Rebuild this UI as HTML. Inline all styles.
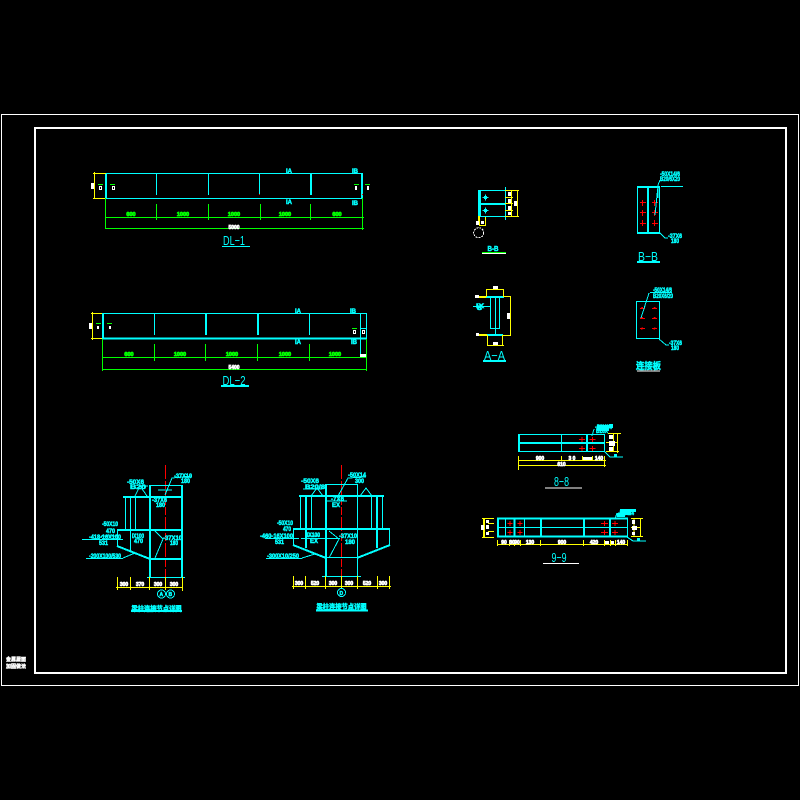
<!DOCTYPE html>
<html><head><meta charset="utf-8"><title>钢梁节点详图</title>
<style>
html,body{margin:0;padding:0;background:#000;width:800px;height:800px;overflow:hidden}
svg{display:block;shape-rendering:crispEdges}
.c{stroke:#0ff;fill:none;stroke-width:1}
.c2{stroke:#0ff;fill:none;stroke-width:2}
.c3{stroke:#0ff;fill:none;stroke-width:3}
.g{stroke:#0f0;fill:none;stroke-width:1}
.y{stroke:#ff0;fill:none;stroke-width:1}
.y2{stroke:#ff0;fill:none;stroke-width:2}
.w{stroke:#fff;fill:none;stroke-width:1}
.r{stroke:#f00;fill:none;stroke-width:1}
text{font-family:"Liberation Sans","Noto Sans CJK SC",sans-serif}
.tc{fill:#0ff;stroke:#0ff;stroke-width:.5;font-size:6px;font-weight:bold}
.tg{fill:#0f0;stroke:#0f0;stroke-width:.8;font-size:5.5px;font-weight:bold;text-anchor:middle}
.tw{fill:#fff;stroke:#fff;stroke-width:.7;font-size:5px;font-weight:bold;text-anchor:middle}
.tt{fill:#0ff;font-size:13px;text-anchor:middle}
.tz{fill:#0ff;stroke:#0ff;stroke-width:.5;font-size:7px;font-weight:bold;text-anchor:middle}
.tf{fill:#fff;stroke:#fff;stroke-width:.4;font-size:5px;font-weight:bold}
</style></head><body>
<svg width="800" height="800" viewBox="0 0 800 800" xmlns="http://www.w3.org/2000/svg">
<rect width="800" height="800" fill="#000"/>
<rect x="1.5" y="114.5" width="797" height="571" fill="none" stroke="#fff" stroke-width="1"/>
<rect x="35" y="128" width="751" height="545" fill="none" stroke="#fff" stroke-width="2"/>
<text class="tf" x="6" y="661" textLength="20" lengthAdjust="spacingAndGlyphs">金属屋面</text>
<text class="tf" x="6" y="668" textLength="20" lengthAdjust="spacingAndGlyphs">加固做法</text>

<!-- DL-1 -->
<path class="c" d="M106 173.500H363M106 198.500H363M156.500 174V195M208.500 174V195M259.500 174V195"/>
<path class="c2" d="M106 173V199M311 174V195M362 173V199"/>
<path class="y" d="M94.500 172V199M93 173.500H106M93 198.500H106"/>
<rect x="91" y="183" width="3" height="6" fill="#fff"/>
<path class="g" d="M98 184.500H103M110 184.500H115M354 184.500H359M365 184.500H370"/>
<path class="w" d="M99.500 186.500h2v3h-2zM112.500 186.500h2v3h-2z"/>
<rect x="355" y="186" width="2" height="4" fill="#fff"/><rect x="367" y="186" width="2" height="4" fill="#fff"/>
<rect x="259" y="194" width="1" height="1" fill="#f00"/><rect x="362" y="194" width="1" height="1" fill="#f00"/>
<text class="tc" x="286" y="173">IA</text>
<text class="tc" x="352" y="173">IB</text>
<text class="tc" x="286" y="204">IA</text>
<text class="tc" x="352" y="205">IB</text>
<path class="g" d="M105.500 198V229M362.500 198V230M156.500 204V220M208.500 204V220M260.500 204V220M310.500 204V220M105 217.500H364M105 228.500H364"/>
<text class="tg" x="131" y="216">600</text>
<text class="tg" x="183" y="216">1000</text>
<text class="tg" x="234" y="216">1000</text>
<text class="tg" x="285" y="216">1000</text>
<text class="tg" x="337" y="216">600</text>
<text class="tw" x="234" y="229">5000</text>
<text class="tt" x="234" y="245" textLength="22" lengthAdjust="spacingAndGlyphs">DL−1</text>
<path class="c" d="M222 246.500H250"/>

<!-- DL-2 -->
<path class="c" d="M102 313.500H366.500M154.500 314V335M309.500 314V335M360.500 314V358M366.500 313V339M360 328.500H366"/>
<path class="c2" d="M103 313V339M102 338.500H367M206 314V335M258 314V335"/>
<path class="y" d="M92.500 312V340M91 313.500H102M91 338.500H102"/>
<rect x="89" y="323" width="3" height="6" fill="#fff"/>
<path class="g" d="M96 323.500H101M107 323.500H112M352 328.500H357"/>
<rect x="97" y="326" width="2" height="3" fill="#fff"/><rect x="109" y="326" width="2" height="3" fill="#fff"/>
<path class="w" d="M353.500 330.500h2v3h-2zM362.500 330.500h2v3h-2z"/>
<text class="tc" x="295" y="313">IA</text>
<text class="tc" x="350" y="313">IB</text>
<text class="tc" x="295" y="344">IA</text>
<text class="tc" x="351" y="344">IB</text>
<path class="g" d="M102.500 339V371M366.500 339V371M154.500 344V361M205.500 344V361M257.500 344V361M309.500 344V361M103 357.500H366M103 369.500H366"/>
<text class="tg" x="129" y="356">600</text>
<text class="tg" x="180" y="356">1000</text>
<text class="tg" x="232" y="356">1000</text>
<text class="tg" x="285" y="356">1000</text>
<text class="tg" x="335" y="356">1000</text>
<text class="tw" x="234" y="369">5400</text>
<rect x="360" y="354" width="6" height="3" fill="#fff"/>
<text class="tt" x="234" y="385" textLength="23" lengthAdjust="spacingAndGlyphs">DL−2</text>
<path class="c2" d="M221 386H249"/>

<!-- Detail 1 -->
<path class="r" d="M165.500 465V580" stroke-dasharray="14 2 8 2"/>
<path class="c2" d="M150 485V577M182 485V577M123 497H182M117 530H182M150 559H182"/>
<path class="c" d="M150 485.500H182M147 577.500H185M125.500 497V530M130.500 497V552M135.500 497V530M117.500 530V546M155 531L163 539L155 558M135 496L140 486L148 486M140 486L147 496M158 490L172 490M165 495L172 478L192 476"/>
<path class="c2" d="M117 546L150 559"/>
<path class="c" d="M82 539.500H123M86 558.500H123M123 558L135 553M101 536H118"/>
<text class="tc" x="127" y="484" textLength="17" lengthAdjust="spacingAndGlyphs">-50X6</text>
<text class="tc" x="130" y="489" textLength="16" lengthAdjust="spacingAndGlyphs">B20</text>
<text class="tc" x="174" y="478" textLength="18" lengthAdjust="spacingAndGlyphs">-37X10</text>
<text class="tc" x="181" y="483" textLength="9" lengthAdjust="spacingAndGlyphs">180</text>
<text class="tc" x="152" y="502" textLength="15" lengthAdjust="spacingAndGlyphs">-37X6</text>
<text class="tc" x="156" y="507" textLength="9" lengthAdjust="spacingAndGlyphs">180</text>
<text class="tc" x="102" y="526" textLength="16" lengthAdjust="spacingAndGlyphs">-50X10</text>
<text class="tc" x="106" y="533" textLength="9" lengthAdjust="spacingAndGlyphs">470</text>
<text class="tc" x="89" y="539" textLength="32" lengthAdjust="spacingAndGlyphs">-418-16X100</text>
<text class="tc" x="99" y="545" textLength="9" lengthAdjust="spacingAndGlyphs">531</text>
<text class="tc" x="132" y="538" textLength="12" lengthAdjust="spacingAndGlyphs">IX100</text>
<text class="tc" x="134" y="543" textLength="9" lengthAdjust="spacingAndGlyphs">470</text>
<text class="tc" x="163" y="540" textLength="19" lengthAdjust="spacingAndGlyphs">-37X10</text>
<text class="tc" x="170" y="545" textLength="8" lengthAdjust="spacingAndGlyphs">180</text>
<text class="tc" x="89" y="558" textLength="32" lengthAdjust="spacingAndGlyphs">-200X100/530</text>
<path class="y" d="M116 587.500H183M117.500 577V590M130.500 577V590M149.500 577V590M165.500 577V590M182.500 577V591"/>
<text class="tw" x="124" y="586">300</text>
<text class="tw" x="140" y="586">370</text>
<text class="tw" x="158" y="586">300</text>
<text class="tw" x="174" y="586">300</text>
<circle class="c" cx="161.500" cy="594" r="4"/><circle class="c" cx="170.500" cy="594" r="4"/>
<text class="tc" x="159.500" y="596" style="font-size:5px">A</text><text class="tc" x="168.500" y="596" style="font-size:5px">B</text>
<text class="tz" x="156.500" y="611" textLength="50" lengthAdjust="spacingAndGlyphs">梁柱连接节点详图</text>
<path class="c2" d="M131 611H182"/>

<!-- Detail 2 -->
<path class="r" d="M341.500 465V578" stroke-dasharray="14 2 8 2"/>
<path class="c2" d="M326 484V576M299 496H384M293 529H390M306 496V548M377 496V548"/>
<path class="c" d="M326 484.500H357.500M357.500 484V576M326 557.500H357.500M322 576.500H361M300.500 496V529M311.500 496V529M371.500 496V529M382.500 496V529M293.500 529V545M389.500 529V545M311 496L317 488L323 496M360 496L366 488L372 496M329 531L339 539L329 558M338 496L348 478L366 477M303 489H322M301 538.500H340M265 538.500H299M266 558.500H302M302 558L315 554M326 501H347M306 536H320"/>
<path class="c2" d="M293 545L326 558M390 545L357 558"/>
<text class="tc" x="301" y="483" textLength="18" lengthAdjust="spacingAndGlyphs">-50X6</text>
<text class="tc" x="305" y="489" textLength="20" lengthAdjust="spacingAndGlyphs">B20/8</text>
<text class="tc" x="348" y="477" textLength="18" lengthAdjust="spacingAndGlyphs">-50X14</text>
<text class="tc" x="355" y="483" textLength="9" lengthAdjust="spacingAndGlyphs">300</text>
<text class="tc" x="331" y="501" textLength="13" lengthAdjust="spacingAndGlyphs">-7X6</text>
<text class="tc" x="332" y="507" textLength="8" lengthAdjust="spacingAndGlyphs">EX</text>
<text class="tc" x="277" y="525" textLength="16" lengthAdjust="spacingAndGlyphs">-50X10</text>
<text class="tc" x="283" y="531" textLength="8" lengthAdjust="spacingAndGlyphs">470</text>
<text class="tc" x="260" y="538" textLength="33" lengthAdjust="spacingAndGlyphs">-460-16X100</text>
<text class="tc" x="275" y="544" textLength="9" lengthAdjust="spacingAndGlyphs">531</text>
<text class="tc" x="307" y="537" textLength="13" lengthAdjust="spacingAndGlyphs">IX100</text>
<text class="tc" x="310" y="543" textLength="8" lengthAdjust="spacingAndGlyphs">EX</text>
<text class="tc" x="339" y="538" textLength="18" lengthAdjust="spacingAndGlyphs">-37X10</text>
<text class="tc" x="345" y="544" textLength="10" lengthAdjust="spacingAndGlyphs">180</text>
<text class="tc" x="267" y="558" textLength="32" lengthAdjust="spacingAndGlyphs">-300X10/250</text>
<path class="y" d="M292 586.500H391M293.500 576V589M305.500 576V589M325.500 576V589M341.500 576V589M357.500 576V589M377.500 576V589M389.500 576V589"/>
<text class="tw" x="299" y="585">300</text>
<text class="tw" x="315" y="585">520</text>
<text class="tw" x="333" y="585">300</text>
<text class="tw" x="349" y="585">300</text>
<text class="tw" x="367" y="585">520</text>
<text class="tw" x="383" y="585">300</text>
<circle class="c" cx="341.500" cy="592.500" r="4"/>
<text class="tc" x="339.500" y="595" style="font-size:5px">D</text>
<text class="tz" x="341.500" y="609" textLength="50" lengthAdjust="spacingAndGlyphs">梁柱连接节点详图</text>
<path class="c2" d="M316 610.500H368"/>

<!-- Section 7-7 -->
<path class="c3" d="M479.500 190V217"/>
<path class="c" d="M478 190.500H506M478 216.500H506M505.500 187V220"/>
<path class="c2" d="M478 204H505"/>
<path class="c" d="M485.500 194.500V200.500M482.500 197.500H488.500M485.500 207.500V213.500M482.500 210.500H488.500"/>
<rect x="484" y="196" width="3" height="3" fill="#0ff"/><rect x="484" y="209" width="3" height="3" fill="#0ff"/>
<path class="y" d="M505 190.500H519M505 216.500H519M511.500 190V217M517.500 190V217M505 197.500H513M505 203.500H513M505 210.500H513M485.500 217V225M479 225.500H486"/>
<path class="y2" d="M479 216V225"/>
<rect x="508" y="192" width="3" height="4" fill="#fff"/><rect x="508" y="199" width="3" height="4" fill="#fff"/><rect x="508" y="206" width="3" height="4" fill="#fff"/><rect x="508" y="212" width="3" height="3" fill="#fff"/><rect x="514" y="201" width="3" height="5" fill="#fff"/>
<rect x="476" y="221" width="3" height="4" fill="#fff"/><rect x="481" y="221" width="3" height="3" fill="#fff"/>
<circle class="w" cx="478.700" cy="232.700" r="5" stroke-dasharray="2 1"/>
<text class="tz" x="493" y="251" textLength="11" lengthAdjust="spacingAndGlyphs">B-B</text>
<path class="g" d="M482 252.500H506"/><path class="w" d="M482 253.500H506"/>

<!-- B-B -->
<path class="c" d="M637.500 187V233M659.500 187V233"/>
<path class="c2" d="M637 187H660M637 233H660M648 187V233"/>
<path class="r" d="M642.500 200V206M640 202.500H646M654.500 200V206M652 202.500H658M642.500 210V216M640 212.500H646M654.500 210V216M652 212.500H658M642.500 220V226M640 223.500H646M654.500 220V226M652 223.500H658"/>
<text class="tc" x="660" y="176" textLength="20" lengthAdjust="spacingAndGlyphs">-50X14/6</text>
<text class="tc" x="660" y="181" textLength="20" lengthAdjust="spacingAndGlyphs">B20/6X20</text>
<path class="c" d="M661 186.500H683M658 198V185L660 180M658 186L655 215M659 232L665 238H668"/>
<text class="tc" x="668" y="238" textLength="14" lengthAdjust="spacingAndGlyphs">-37X6</text>
<text class="tc" x="671" y="243" textLength="8" lengthAdjust="spacingAndGlyphs">180</text>
<text class="tt" x="648" y="261" textLength="20" lengthAdjust="spacingAndGlyphs">B−B</text>
<path class="c2" d="M637 262H660"/>

<!-- A-A -->
<path class="c2" d="M486 297H504M487 335H503"/>
<path class="c" d="M490.500 297V329M499.500 297V329M495.500 297V334M490 328.500H500M473 306.500H490"/>
<path class="y" d="M486.500 289V297M503.500 289V297M486 289.500H504M487.500 335V346M502.500 335V346M487 345.500H504M510.500 296V336M503 296.500H511M503 335.500H511"/>
<path class="y2" d="M479 297H486M479 335H487"/>
<rect x="493" y="286" width="5" height="3" fill="#fff"/><rect x="493" y="342" width="5" height="3" fill="#fff"/><rect x="507" y="313" width="3" height="6" fill="#fff"/><rect x="475" y="295" width="4" height="3" fill="#fff"/><rect x="476" y="333" width="3" height="3" fill="#fff"/>
<text class="tc" x="476" y="308" textLength="8" lengthAdjust="spacingAndGlyphs">IX</text>
<text class="tc" x="477" y="310" textLength="5" lengthAdjust="spacingAndGlyphs">8</text>
<text class="tt" x="494.500" y="360" textLength="21" lengthAdjust="spacingAndGlyphs">A−A</text>
<path class="c2" d="M483 361H506"/>

<!-- Connection plate -->
<rect class="c" x="636.500" y="301.500" width="23" height="37"/>
<path class="r" d="M640 308.500H645M652 308.500H657M640 318.500H645M652 318.500H657M640 328.500H645M652 328.500H657"/>
<g fill="#f00"><circle cx="642" cy="308" r="1"/><circle cx="654.500" cy="308" r="1"/><circle cx="642" cy="318" r="1"/><circle cx="654.500" cy="318" r="1"/><circle cx="642" cy="328.500" r="1"/><circle cx="654.500" cy="328.500" r="1"/></g>
<path class="c" d="M650 292.500H672M649 293L641 318M659 339L666 345H669"/>
<text class="tc" x="653" y="292" textLength="19" lengthAdjust="spacingAndGlyphs">-50X14/6</text>
<text class="tc" x="653" y="298" textLength="20" lengthAdjust="spacingAndGlyphs">B20X6/20</text>
<text class="tc" x="669" y="345" textLength="13" lengthAdjust="spacingAndGlyphs">-37X6</text>
<text class="tc" x="671" y="350" textLength="8" lengthAdjust="spacingAndGlyphs">180</text>
<text class="tz" x="648.500" y="369" style="font-size:9px" textLength="25" lengthAdjust="spacingAndGlyphs">连接板</text>
<path class="w" d="M637 371H660" stroke-width="2"/>

<!-- 8-8 -->
<path class="c" d="M518 434.500H605M518 451.500H605M604.500 434V452M561.500 434V452"/>
<path class="c2" d="M519 434V452M518 443H604M587 434V452"/>
<path class="r" d="M582 437V442M579 439.500H585M592.500 437V442M589.500 439.500H595.500M582 446V451M579 448.500H585M592.500 446V451M589.500 448.500H595.500"/>
<path class="y" d="M518.500 456V470M518 460.500H606M518 465.500H606M561.500 456V461M582.500 456V461M592.500 456V461M604.500 456V467M608 433.500H621M613.500 433V452M617.500 433V453M606 442.500H617M606 451.500H619"/>
<text class="tw" x="540" y="460">900</text>
<text class="tw" x="572" y="460">3 0</text>
<rect x="583" y="457" width="9" height="3" fill="#fff"/>
<text class="tw" x="599" y="460">140</text>
<text class="tw" x="561.500" y="466">610</text>
<rect x="609" y="435" width="4" height="4" fill="#fff"/><rect x="609" y="441" width="6" height="5" fill="#fff"/><rect x="609" y="447" width="4" height="4" fill="#fff"/>
<path class="c" d="M592 436L594 429M605 452L610 457H623"/>
<text class="tc" x="595" y="429" textLength="17" lengthAdjust="spacingAndGlyphs">-50X14</text>
<text class="tc" x="596" y="433" textLength="12" lengthAdjust="spacingAndGlyphs">B20X</text>
<rect x="597" y="425" width="12" height="6" fill="#0ff"/><rect x="609" y="424" width="4" height="4" fill="#0ff"/>
<rect x="614" y="454" width="3" height="3" fill="#0ff"/>
<text class="tt" x="561.500" y="486" textLength="15" lengthAdjust="spacingAndGlyphs">8−8</text>
<path class="w" d="M545 488H582" stroke-width="2"/>

<!-- 9-9 -->
<path class="c" d="M497 518.500H628M497 536.500H628M497.500 518V537M627.500 518V537M505.500 518V537M524.500 518V537M497 527.500H628"/>
<path class="c2" d="M498 518V537M497 518.500H628M497 536.500H628M514.500 518V537M541 518V537M584 518V537M610 518V537"/>
<path class="r" d="M510 521V526M507.500 523.500H512.500M520 521V526M517.500 523.500H522.500M510 530V535M507.500 532.500H512.500M520 530V535M517.500 532.500H522.500M604.500 521V526M601 523.500H608M615 521V526M612 523.500H618M604.500 530V535M601 532.500H608M615 530V535M612 532.500H618"/>
<path class="y" d="M497.500 540V546M497 544.500H628M509.500 540V546M514.500 540V546M520.500 540V546M540.500 540V546M583.500 540V546M604.500 540V546M610.500 540V546M615.500 540V546M627.500 540V546M482 518.500H494M484.500 518V537M482 537.500H494M488 523.500H494M488 531.500H494M631 518.500H643M634 518V537M640.500 518V537M631 527.500H640M631 536.500H643"/>
<path class="y2" d="M484 518V538"/>
<rect x="481" y="525" width="3" height="5" fill="#fff"/><rect x="486" y="520" width="3" height="3" fill="#fff"/><rect x="486" y="525" width="3" height="4" fill="#fff"/><rect x="486" y="532" width="3" height="3" fill="#fff"/>
<rect x="632" y="520" width="3" height="4" fill="#fff"/><rect x="632" y="526" width="5" height="4" fill="#fff"/><rect x="632" y="532" width="3" height="3" fill="#fff"/>
<text class="tw" x="504" y="544">90</text>
<text class="tw" x="512" y="544">80</text>
<text class="tw" x="517" y="544">90</text>
<text class="tw" x="530" y="544">130</text>
<text class="tw" x="562" y="544">900</text>
<text class="tw" x="594" y="544">420</text>
<rect x="605" y="541" width="4" height="3" fill="#fff"/><rect x="611" y="541" width="3" height="3" fill="#fff"/>
<text class="tw" x="621" y="544">140</text>
<path class="c" d="M615 519L617 513M627 537L633 541H646"/>
<rect x="620" y="509" width="11" height="6" fill="#0ff"/><rect x="617" y="513" width="8" height="4" fill="#0ff"/><rect x="631" y="509" width="5" height="3" fill="#0ff"/>
<text class="tc" x="618" y="515" textLength="16" lengthAdjust="spacingAndGlyphs">-50X14</text>
<rect x="637" y="538" width="3" height="3" fill="#0ff"/>
<text class="tt" x="559" y="562" textLength="15" lengthAdjust="spacingAndGlyphs">9−9</text>
<path class="w" d="M543 563.500H579"/>
</svg>
</body></html>
